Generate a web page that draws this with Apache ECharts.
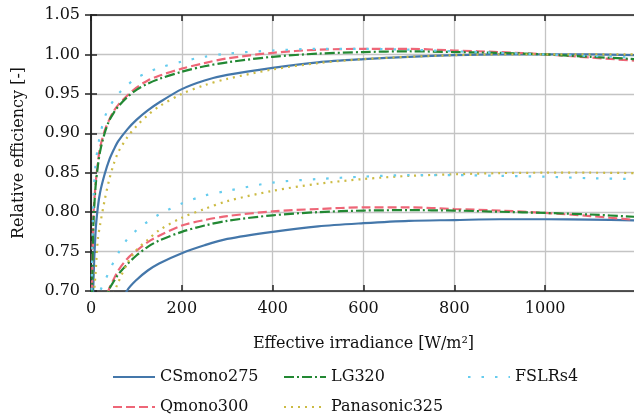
<!DOCTYPE html>
<html>
<head>
<meta charset="utf-8">
<style>
	html, body {margin: 0;padding: 0;background: #fff}
	#main {width: 634px;height: 416px}
</style>
</head>
<body>
<div id="main"></div>
<script src="https://cdn.jsdelivr.net/npm/echarts@6/dist/echarts.min.js"></script>
<script>
	// 辐照度 (x)
	var irradiance = [0, 5, 10, 15, 20, 30, 40, 50, 60, 80, 100, 125, 150, 200, 250, 300, 400, 500, 600, 700, 800, 900, 1000, 1100, 1200];

	// upper set: normalised at 1000 W/m2
	var csmonoUpper = [0.55, 0.705, 0.775, 0.806, 0.825, 0.848, 0.866, 0.879, 0.890, 0.905, 0.917, 0.929, 0.939, 0.956, 0.967, 0.974, 0.983, 0.990, 0.994, 0.997, 0.999, 1.000, 1.000, 1.000, 0.999];
	var qmonoUpper = [0.62, 0.790, 0.835, 0.862, 0.882, 0.903, 0.917, 0.928, 0.936, 0.948, 0.958, 0.967, 0.973, 0.982, 0.989, 0.995, 1.002, 1.006, 1.007, 1.007, 1.005, 1.003, 1.000, 0.996, 0.992];
	var lgUpper = [0.60, 0.780, 0.832, 0.858, 0.877, 0.900, 0.916, 0.926, 0.934, 0.946, 0.955, 0.963, 0.969, 0.978, 0.985, 0.990, 0.997, 1.001, 1.003, 1.004, 1.003, 1.002, 1.000, 0.997, 0.994];
	var panaUpper = [0.50, 0.680, 0.722, 0.765, 0.784, 0.815, 0.841, 0.861, 0.876, 0.895, 0.909, 0.923, 0.934, 0.950, 0.961, 0.969, 0.981, 0.989, 0.994, 0.997, 0.999, 1.000, 1.000, 1.000, 1.000];
	var fslrUpper = [0.65, 0.810, 0.860, 0.882, 0.898, 0.920, 0.933, 0.942, 0.950, 0.961, 0.970, 0.977, 0.983, 0.991, 0.997, 1.001, 1.005, 1.007, 1.007, 1.006, 1.004, 1.002, 1.000, 0.998, 0.996];

	// lower set
	var csmonoLower = [0.40, 0.45, 0.50, 0.53, 0.56, 0.60, 0.63, 0.655, 0.675, 0.701, 0.714, 0.726, 0.735, 0.748, 0.758, 0.766, 0.775, 0.782, 0.786, 0.789, 0.790, 0.791, 0.791, 0.7905, 0.7895];
	var qmonoLower = [0.50, 0.55, 0.59, 0.62, 0.645, 0.683, 0.703, 0.715, 0.726, 0.741, 0.751, 0.762, 0.770, 0.783, 0.790, 0.795, 0.801, 0.804, 0.806, 0.806, 0.804, 0.802, 0.799, 0.795, 0.790];
	var lgLower = [0.50, 0.55, 0.59, 0.62, 0.645, 0.683, 0.702, 0.712, 0.721, 0.734, 0.745, 0.756, 0.764, 0.775, 0.783, 0.789, 0.796, 0.800, 0.802, 0.8025, 0.802, 0.8005, 0.799, 0.797, 0.794];
	var panaLower = [0.45, 0.50, 0.54, 0.57, 0.60, 0.64, 0.675, 0.696, 0.711, 0.735, 0.752, 0.765, 0.777, 0.793, 0.804, 0.814, 0.827, 0.836, 0.842, 0.846, 0.848, 0.8495, 0.850, 0.850, 0.8495];
	var fslrLower = [0.60, 0.64, 0.67, 0.69, 0.70, 0.712, 0.725, 0.737, 0.748, 0.766, 0.777, 0.788, 0.797, 0.811, 0.821, 0.827, 0.8375, 0.842, 0.845, 0.847, 0.847, 0.846, 0.845, 0.843, 0.842];

	var names = ['CSmono275', 'Qmono300', 'LG320', 'Panasonic325', 'FSLRs4'];
	var colors = ['#4477AA', '#EE6677', '#228833', '#CCBB44', '#66CCEE'];
	var xTicks = [0, 200, 400, 600, 800, 1000];

	var font = 'DejaVu Serif';

	function pairs(ys) {
		return irradiance.map(function (x, i) { return [x, ys[i]]; });
	}

	var dashes = {
		'CSmono275': 'solid',
		'Qmono300': [9, 4],
		'LG320': [10, 3, 2, 3],
		'Panasonic325': [2, 5],
		'FSLRs4': [2.5, 11]
	};

	function makeSeries(name, idx, ys) {
		return {
			name: name,
			type: 'line',
			data: pairs(ys),
			showSymbol: false,
			symbol: 'none',
			smooth: 0.3,
			clip: true,
			color: colors[idx],
			lineStyle: {width: 2.2, color: colors[idx], type: dashes[name], cap: 'butt'},
			z: 3
		};
	}

	var series = [
		makeSeries(names[0], 0, csmonoUpper),
		makeSeries(names[0], 0, csmonoLower),
		makeSeries(names[1], 1, qmonoUpper),
		makeSeries(names[1], 1, qmonoLower),
		makeSeries(names[2], 2, lgUpper),
		makeSeries(names[2], 2, lgLower),
		makeSeries(names[3], 3, panaUpper),
		makeSeries(names[3], 3, panaLower),
		makeSeries(names[4], 4, fslrUpper),
		makeSeries(names[4], 4, fslrLower)
	];

	// 图例位置 (列主序, 3 列)
	var legendPos = [[112, 369], [112, 399], [283, 369], [283, 399], [467, 369]];
	var legends = names.map(function (n, i) {
		return {
			data: [n],
			left: legendPos[i][0],
			top: legendPos[i][1],
			padding: 0,
			itemWidth: 42,
			itemHeight: 14,
			itemStyle: {opacity: 0},
			textStyle: {fontFamily: font, fontSize: 16, color: '#111'},
			selectedMode: false
		};
	});

	var myChart = echarts.init(document.getElementById('main'), null, {renderer: 'canvas'});
	var option = {
		animation: false,
		backgroundColor: '#fff',
		grid: {left: 91, top: 15, width: 545, height: 276, containLabel: false, outerBoundsMode: 'none'},
		legend: legends,
		xAxis: [{
			type: 'value',
			min: 0,
			max: 1200,
			interval: 200,
			name: 'Effective irradiance [W/m²]',
			nameLocation: 'middle',
			nameGap: 45,
			nameTextStyle: {fontFamily: font, fontSize: 16, color: '#111'},
			axisLine: {show: true, onZero: false, lineStyle: {color: '#222', width: 1.5}},
			axisTick: {show: true, inside: true, length: 6, lineStyle: {color: '#222', width: 1.5}},
			axisLabel: {
				fontFamily: font, fontSize: 16, color: '#111', margin: 10,
				formatter: function (v) { return xTicks.indexOf(v) >= 0 ? String(v) : ''; }
			},
			splitLine: {show: true, lineStyle: {color: '#c4c4c4', width: 1.3}}
		}, {
			type: 'value',
			position: 'top',
			min: 0,
			max: 1200,
			interval: 200,
			axisLine: {show: true, lineStyle: {color: '#222', width: 1.5}},
			axisTick: {show: true, inside: true, length: 6, lineStyle: {color: '#222', width: 1.5}},
			axisLabel: {show: false},
			splitLine: {show: false}
		}],
		yAxis: [{
			type: 'value',
			min: 0.70,
			max: 1.05,
			interval: 0.05,
			name: 'Relative efficiency [-]',
			nameLocation: 'middle',
			nameGap: 64,
			nameTextStyle: {fontFamily: font, fontSize: 16, color: '#111'},
			axisLine: {show: true, onZero: false, lineStyle: {color: '#222', width: 1.5}},
			axisTick: {show: true, inside: true, length: 6, lineStyle: {color: '#222', width: 1.5}},
			axisLabel: {
				fontFamily: font, fontSize: 16, color: '#111', margin: 11,
				formatter: function (v) { return v.toFixed(2); }
			},
			splitLine: {show: true, lineStyle: {color: '#c4c4c4', width: 1.3}}
		}, {
			type: 'value',
			position: 'right',
			min: 0.70,
			max: 1.05,
			interval: 0.05,
			axisLine: {show: true, lineStyle: {color: '#222', width: 1.5}},
			axisTick: {show: true, inside: true, length: 6, lineStyle: {color: '#222', width: 1.5}},
			axisLabel: {show: false},
			splitLine: {show: false}
		}],
		series: series
	};
	myChart.setOption(option);
</script>
</body>
</html>
